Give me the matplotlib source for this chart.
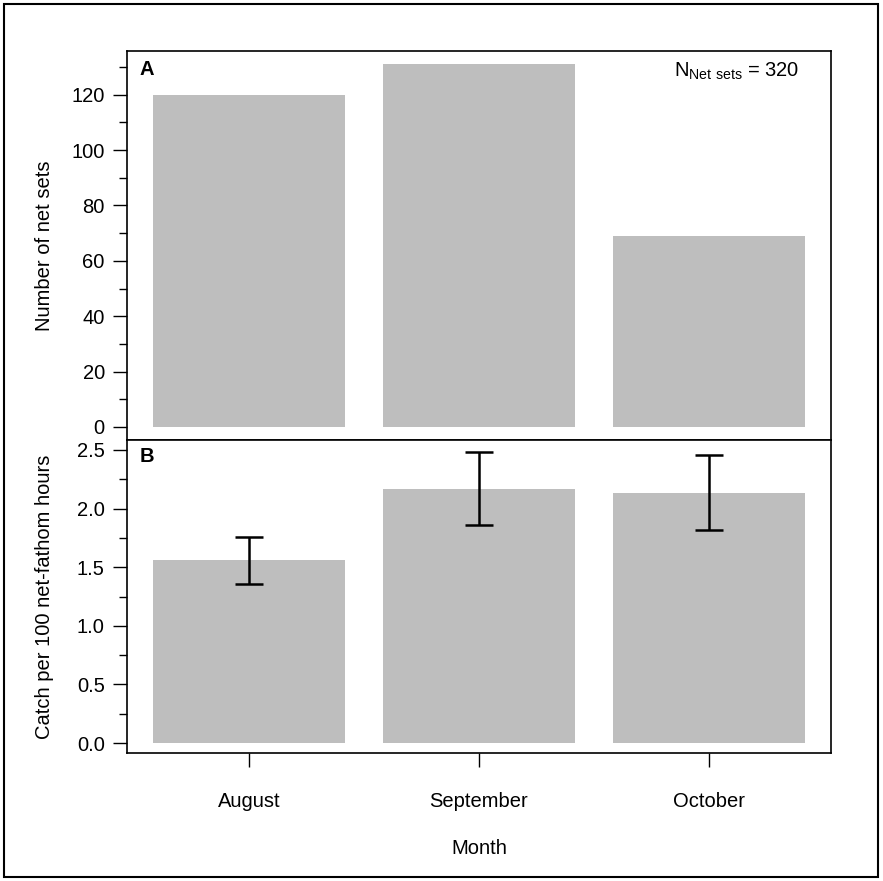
import matplotlib
matplotlib.use("Agg")
import matplotlib.pyplot as plt
from matplotlib.patches import Rectangle
from matplotlib.ticker import MultipleLocator, FormatStrFormatter

plt.rcParams["font.family"] = ["Liberation Sans", "DejaVu Sans"]
plt.rcParams["mathtext.fontset"] = "custom"
plt.rcParams["mathtext.rm"] = "Liberation Sans"

# data
months = ["August", "September", "October"]
net_sets = [120, 131, 69]
catch_rate = [1.56, 2.165, 2.13]
catch_lower = [1.355, 1.86, 1.82]
catch_upper = [1.755, 2.48, 2.455]

# R barplot style positions (width 1, space 0.2)
xpos = [0.7 + 1.2 * i for i in range(len(months))]
bar_col = "#bebebe"
fs = 14.5

fig = plt.figure(figsize=(8.83, 8.81), dpi=100)
left, right = 127 / 883, 831 / 883
ax_a = fig.add_axes([left, 1 - 440 / 881, right - left, (440 - 51) / 881])
ax_b = fig.add_axes([left, 1 - 753 / 881, right - left, (753 - 440) / 881])

# outer box
fig.patches.append(Rectangle((4 / 883, 4 / 881), 874 / 883, 873 / 881, transform=fig.transFigure,
                             fill=False, edgecolor="black", linewidth=1.5))

# panel A
ax_a.bar(xpos, net_sets, width=1.0, color=bar_col, edgecolor="none")
ax_a.set_xlim(0.064, 3.736)
ax_a.set_ylim(-4.7, 135.8)
ax_a.yaxis.set_major_locator(MultipleLocator(20))
ax_a.yaxis.set_minor_locator(MultipleLocator(10))
ax_a.set_xticks([])
ax_a.set_ylabel("Number of net sets", fontsize=fs)
ax_a.text(0.018, 0.978, "A", transform=ax_a.transAxes, fontsize=fs, fontweight="bold", va="top", ha="left")
ax_a.text(0.955, 0.975, r"N$_{\mathrm{Net\ sets}}$ = 320", transform=ax_a.transAxes,
          fontsize=fs, va="top", ha="right")

# panel B
ax_b.bar(xpos, catch_rate, width=1.0, color=bar_col, edgecolor="none")
yerr = [[c - lo for c, lo in zip(catch_rate, catch_lower)],
        [hi - c for c, hi in zip(catch_rate, catch_upper)]]
ax_b.errorbar(xpos, catch_rate, yerr=yerr, fmt="none", ecolor="black", elinewidth=1.8,
              capsize=10, capthick=1.8)
ax_b.set_xlim(0.064, 3.736)
ax_b.set_ylim(-0.085, 2.585)
ax_b.yaxis.set_major_locator(MultipleLocator(0.5))
ax_b.yaxis.set_minor_locator(MultipleLocator(0.25))
ax_b.yaxis.set_major_formatter(FormatStrFormatter("%.1f"))
ax_b.set_xticks(xpos)
ax_b.set_xticklabels(months)
ax_b.set_ylabel("Catch per 100 net-fathom hours", fontsize=fs)
ax_b.set_xlabel("Month", fontsize=fs, labelpad=20)
ax_b.text(0.018, 0.978, "B", transform=ax_b.transAxes, fontsize=fs, fontweight="bold", va="top", ha="left")

# put both y labels on the same vertical line
for ax in (ax_a, ax_b):
    ax.yaxis.set_label_coords(-0.104, 0.5)

for ax in (ax_a, ax_b):
    for sp in ax.spines.values():
        sp.set_linewidth(1.2)
    ax.tick_params(axis="both", which="major", direction="out", length=10, width=1, labelsize=fs, pad=6)
    ax.tick_params(axis="y", which="minor", direction="out", length=5.5, width=1)
ax_b.tick_params(axis="x", which="major", pad=18)

fig.savefig("out.png", dpi=100)
